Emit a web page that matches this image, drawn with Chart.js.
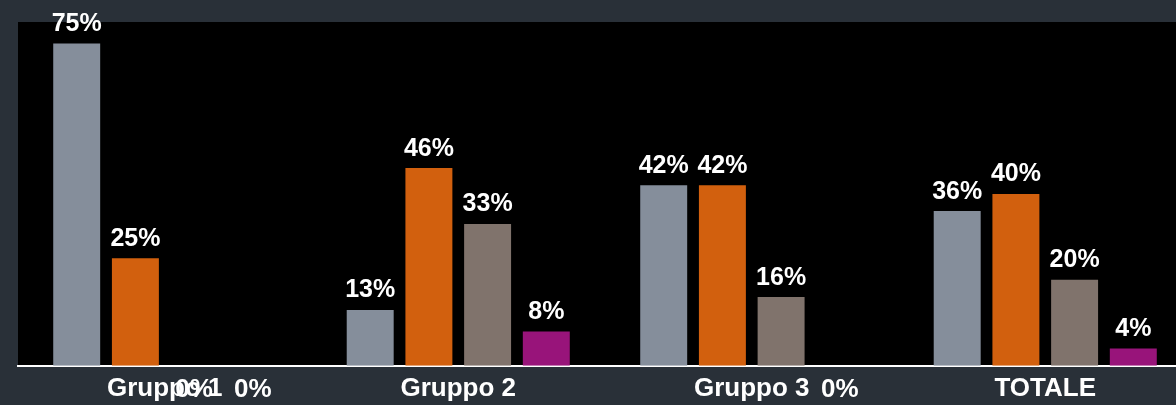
<!DOCTYPE html>
<html>
<head>
<meta charset="utf-8">
<script src="https://cdn.jsdelivr.net/npm/chart.js@4/dist/chart.umd.min.js"></script>
<style>
  html, body { margin: 0; padding: 0; background: #293038; overflow: hidden; }
  #wrap { width: 1176px; height: 405px; overflow: hidden; }
</style>
</head>
<body>
<div id="wrap"><canvas id="chart" width="1192" height="411"></canvas></div>
<script>
// Data
const categories = ['Gruppo 1', 'Gruppo 2', 'Gruppo 3', 'TOTALE'];
const seriesA = [75, 13, 42, 36];
const seriesB = [25, 46, 42, 40];
const seriesC = [0, 33, 16, 20];
const seriesD = [0, 8, 0, 4];
const seriesColors = ['#858e9b', '#d2600e', '#80736c', '#98147a'];

const FONT = '"Liberation Sans", Arial, sans-serif';

// black plot area
const plotBg = {
  id: 'plotBg',
  beforeDraw(chart) {
    const { ctx, chartArea } = chart;
    ctx.save();
    ctx.fillStyle = '#000';
    ctx.fillRect(chartArea.left, chartArea.top, chartArea.right - chartArea.left, chartArea.bottom - chartArea.top);
    ctx.restore();
  }
};

// value labels: above bar, zero values go below the baseline
const valueLabels = {
  id: 'valueLabels',
  afterDatasetsDraw(chart) {
    const { ctx, chartArea } = chart;
    ctx.save();
    ctx.fillStyle = '#fff';
    ctx.textAlign = 'center';
    ctx.textBaseline = 'alphabetic';
    chart.data.datasets.forEach((ds, i) => {
      chart.getDatasetMeta(i).data.forEach((bar, j) => {
        const v = ds.data[j];
        if (v > 0) {
          ctx.font = 'bold 25px ' + FONT;
          ctx.fillText(v + '%', bar.x, bar.y - 12.5);
        } else {
          ctx.font = 'bold 26px ' + FONT;
          ctx.fillText(v + '%', bar.x, chartArea.bottom + 31.5);
        }
      });
    });
    ctx.restore();
  }
};

new Chart(document.getElementById('chart'), {
  type: 'bar',
  data: {
    labels: categories,
    datasets: [
      { data: seriesA, backgroundColor: seriesColors[0] },
      { data: seriesB, backgroundColor: seriesColors[1] },
      { data: seriesC, backgroundColor: seriesColors[2] },
      { data: seriesD, backgroundColor: seriesColors[3] }
    ]
  },
  options: {
    responsive: false,
    animation: false,
    layout: { padding: { left: 18, top: 22, right: 0, bottom: 0 } },
    datasets: { bar: { barPercentage: 0.8, categoryPercentage: 0.8 } },
    plugins: { legend: { display: false }, tooltip: { enabled: false } },
    scales: {
      x: {
        grid: { display: false, drawTicks: false },
        border: { display: true, color: '#fff', width: 2 },
        ticks: {
          color: '#fff',
          padding: 7,
          autoSkip: false,
          maxRotation: 0,
          font: { family: FONT, size: 26, weight: 'bold' }
        }
      },
      y: { display: false, min: 0, max: 80 }
    }
  },
  plugins: [plotBg, valueLabels]
});
</script>
</body>
</html>
